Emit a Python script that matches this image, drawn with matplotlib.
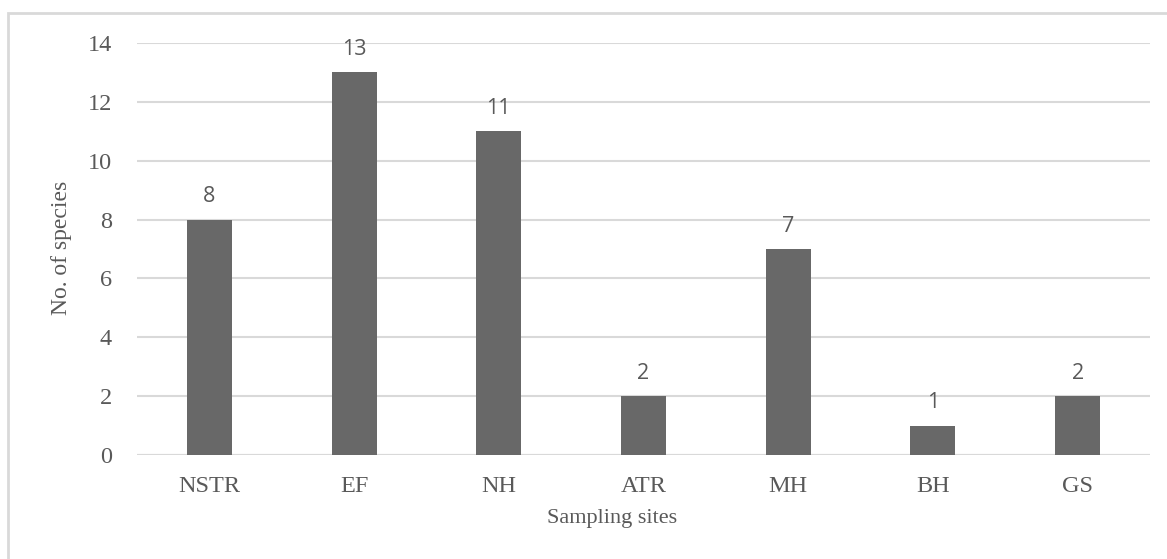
import matplotlib
matplotlib.use("Agg")
import matplotlib.pyplot as plt
from matplotlib.patches import Rectangle

sites = ["NSTR", "EF", "NH", "ATR", "MH", "BH", "GS"]
species = [8, 13, 11, 2, 7, 1, 2]
yticks = [0, 2, 4, 6, 8, 10, 12, 14]

W, H = 1167, 559
fig = plt.figure(figsize=(W / 100, H / 100), dpi=100)
ax = fig.add_axes([137 / W, 1 - 455 / H, (1150 - 137) / W, (455 - 43) / H])

text_col = "#595959"
grid_col = "#d9d9d9"
serif = ["Liberation Serif", "DejaVu Serif"]
sans = ["Open Sans", "DejaVu Sans"]

x = list(range(len(sites)))
ax.bar(x, species, width=0.31, color="#686868", zorder=3)
ax.set_xlim(-0.5, len(sites) - 0.5)
ax.set_ylim(0, 14)
ax.set_yticks(yticks)
ax.set_xticks(x)
ax.set_xticklabels(sites, family=serif, fontsize=17.5, color=text_col)
ax.set_yticklabels([str(t) for t in yticks], family=serif, fontsize=17.5, color=text_col)
ax.tick_params(axis="both", length=0)
ax.tick_params(axis="y", pad=18)
ax.tick_params(axis="x", pad=15)
ax.grid(axis="y", color=grid_col, linewidth=1.5, zorder=0)
for s in ax.spines.values():
    s.set_visible(False)
ax.axhline(0, color=grid_col, linewidth=1.5, zorder=2)

for xi, v in zip(x, species):
    ax.annotate(str(v), (xi, v), xytext=(0, 12.5), textcoords="offset points",
                ha="center", va="baseline", fontsize=15.5, family=sans, color=text_col)

fig.text(612 / W, 1 - 518 / H, "Sampling sites", ha="center", va="center",
         family=serif, fontsize=16, color=text_col)
fig.text(62 / W, 1 - 248 / H, "No. of species", ha="center", va="center",
         rotation=90, family=serif, fontsize=17, color=text_col)

fig.patches.append(Rectangle((8 / W, -0.1), 1.2, 1 - 13 / H + 0.1,
                             transform=fig.transFigure, fill=False,
                             edgecolor=grid_col, linewidth=2))

fig.savefig("out.png", dpi=100)
